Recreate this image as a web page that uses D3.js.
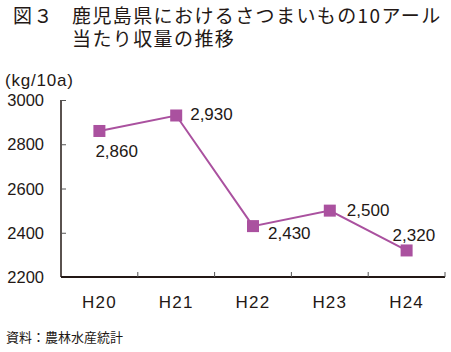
<!DOCTYPE html>
<html>
<head>
<meta charset="utf-8">
<script src="https://cdn.jsdelivr.net/npm/d3@7"></script>
<style>
  body { margin: 0; background: #fff; }
  svg { display: block; font-family: "Noto Sans CJK JP", "Noto Sans", sans-serif; }
</style>
</head>
<body>
<svg id="chart"></svg>
<script>
const width = 451;
const height = 352;

// data
const years = ["H20", "H21", "H22", "H23", "H24"];
const yields = [2860, 2930, 2430, 2500, 2320];
const valueLabels = ["2,860", "2,930", "2,430", "2,500", "2,320"];
const yTicks = [2200, 2400, 2600, 2800, 3000];
const titleLines = ["鹿児島県におけるさつまいもの10アール", "当たり収量の推移"];

// label placement relative to each point (style only)
const labelOffsets = [[-4, 26], [14, 5], [15, 13], [17, 5], [-14, -9]];

const margin = { top: 100, right: 6, bottom: 75, left: 61 };
const purple = "#aa519f";
const ink = "#231815";
const latin = "Liberation Sans, Arial, sans-serif";

const svg = d3.select("#chart")
  .attr("width", width)
  .attr("height", height);

// title (two lines kept in one text element)
const title = svg.append("g")
  .attr("font-size", 19)
  .attr("letter-spacing", 1.4)
  .attr("fill", ink);
title.append("text").attr("x", 13).attr("y", 23).text("図３");
title.append("text")
  .selectAll("tspan")
  .data(titleLines)
  .join("tspan")
  .attr("x", 72)
  .attr("y", (d, i) => 23 + i * 23)
  .text(d => d);

const x = d3.scaleBand()
  .domain(years)
  .range([margin.left, width - margin.right]);

const y = d3.scaleLinear()
  .domain([2200, 3000])
  .range([height - margin.bottom, margin.top]);

// unit label
svg.append("text")
  .attr("x", 5).attr("y", 86)
  .attr("font-size", 17).attr("fill", ink)
  .attr("letter-spacing", 0.8)
  .attr("font-family", latin)
  .text("(kg/10a)");

// y axis
const yAxis = svg.append("g")
  .attr("transform", `translate(${margin.left},0)`)
  .call(d3.axisRight(y).tickValues(yTicks).tickSize(5).tickFormat(""));
yAxis.select(".domain").attr("stroke", ink).attr("stroke-width", 1.5)
  .attr("d", `M0,${y(3000)}V${y(2200)}`);
yAxis.selectAll(".tick line").attr("stroke", "#555");

svg.selectAll(".ylab")
  .data(yTicks)
  .join("text")
  .attr("class", "ylab")
  .attr("x", 44)
  .attr("y", d => y(d) + 6)
  .attr("text-anchor", "end")
  .attr("font-size", 16.5)
  .attr("font-family", latin)
  .attr("fill", ink)
  .text(d => d);

// x axis
const xAxis = svg.append("g")
  .attr("transform", `translate(0,${y(2200)})`);
xAxis.append("line")
  .attr("x1", margin.left).attr("x2", width - margin.right)
  .attr("stroke", ink).attr("stroke-width", 2);
xAxis.selectAll(".xtick")
  .data(years)
  .join("line")
  .attr("class", "xtick")
  .attr("x1", d => x(d) + x.bandwidth())
  .attr("x2", d => x(d) + x.bandwidth())
  .attr("y1", 0).attr("y2", -5)
  .attr("stroke", "#555");
xAxis.selectAll(".xlab")
  .data(years)
  .join("text")
  .attr("class", "xlab")
  .attr("x", d => x(d) + x.bandwidth() / 2)
  .attr("y", 31)
  .attr("text-anchor", "middle")
  .attr("font-size", 17)
  .attr("letter-spacing", 1.2)
  .attr("font-family", latin)
  .attr("fill", ink)
  .text(d => d);

// line
const pts = years.map((yr, i) => ({ yr, v: yields[i], label: valueLabels[i], off: labelOffsets[i] }));
const line = d3.line()
  .x(d => x(d.yr) + x.bandwidth() / 2)
  .y(d => y(d.v));

svg.append("path")
  .datum(pts)
  .attr("d", line)
  .attr("fill", "none")
  .attr("stroke", purple)
  .attr("stroke-width", 2);

const ms = 12;
svg.selectAll(".mark")
  .data(pts)
  .join("rect")
  .attr("class", "mark")
  .attr("x", d => x(d.yr) + x.bandwidth() / 2 - ms / 2)
  .attr("y", d => y(d.v) - ms / 2)
  .attr("width", ms).attr("height", ms)
  .attr("fill", purple);

svg.selectAll(".vlab")
  .data(pts)
  .join("text")
  .attr("class", "vlab")
  .attr("x", d => x(d.yr) + x.bandwidth() / 2 + d.off[0])
  .attr("y", d => y(d.v) + d.off[1])
  .attr("font-size", 17)
  .attr("font-family", latin)
  .attr("fill", ink)
  .text(d => d.label);

// source
svg.append("text")
  .attr("x", 6).attr("y", 342)
  .attr("font-size", 13).attr("fill", ink)
  .text("資料：農林水産統計");
</script>
</body>
</html>
